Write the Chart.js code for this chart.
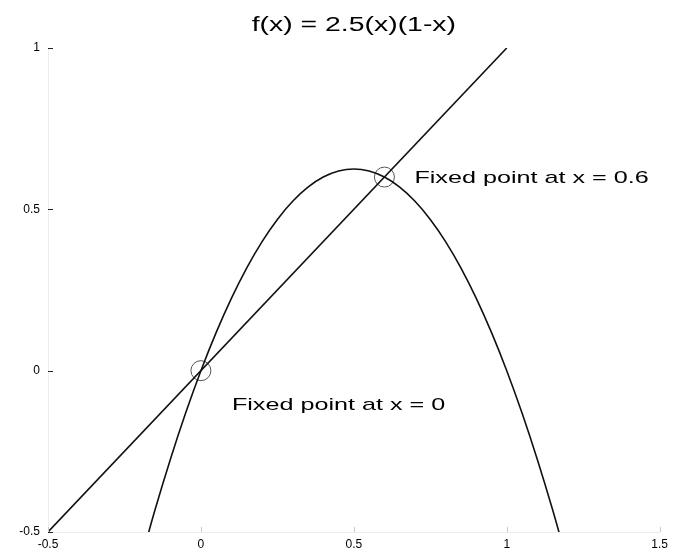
<!DOCTYPE html>
<html>
<head>
<meta charset="utf-8">
<title>Logistic map fixed points</title>
<script src="https://cdn.jsdelivr.net/npm/chart.js@4/dist/chart.umd.min.js"></script>
<style>
  html, body { margin: 0; padding: 0; background: #ffffff; }
  canvas { display: block; }
</style>
</head>
<body>
<canvas id="plot" width="673" height="557"></canvas>
<script>
// Title of the plot
const titleText = 'f(x) = 2.5(x)(1-x)';

// Sampled logistic curve f(x) = 2.5 x (1 - x)
const curveX = [-0.2, -0.15, -0.1, -0.05, 0, 0.05, 0.1, 0.15, 0.2, 0.25, 0.3, 0.35, 0.4, 0.45, 0.5,
                0.55, 0.6, 0.65, 0.7, 0.75, 0.8, 0.85, 0.9, 0.95, 1, 1.05, 1.1, 1.15, 1.2];
const curveY = [-0.6, -0.43125, -0.275, -0.13125, 0, 0.11875, 0.225, 0.31875, 0.4, 0.46875, 0.525, 0.56875, 0.6, 0.61875, 0.625,
                0.61875, 0.6, 0.56875, 0.525, 0.46875, 0.4, 0.31875, 0.225, 0.11875, 0, -0.13125, -0.275, -0.43125, -0.6];

// Identity line y = x
const diagX = [-0.5, 1];
const diagY = [-0.5, 1];

// Fixed points where f(x) = x
const fixedX = [0, 0.6];
const fixedY = [0, 0.6];
const fixedLabels = ['Fixed point at x = 0', 'Fixed point at x = 0.6'];

// Axis ticks
const xTicks = [-0.5, 0, 0.5, 1, 1.5];
const yTicks = [-0.5, 0, 0.5, 1];

const FONT = "'Liberation Sans', Arial, Helvetica, sans-serif";
// label offsets (px) from each fixed point
const labelOffsets = [[31, 35], [30, 1]];

function toPoints(xs, ys) {
  return xs.map((x, i) => ({ x: x, y: ys[i] }));
}

function stretchedText(ctx, text, x, y, align, font, sx) {
  ctx.save();
  ctx.font = font;
  ctx.textBaseline = 'middle';
  ctx.textAlign = 'left';
  const w = ctx.measureText(text).width * sx;
  const left = align === 'center' ? x - w / 2 : (align === 'right' ? x - w : x);
  ctx.translate(left, y);
  ctx.scale(sx, 1);
  ctx.fillStyle = '#000';
  ctx.fillText(text, 0, 0);
  ctx.restore();
}

// inward tick marks, title and fixed-point captions
const decorations = {
  id: 'decorations',
  afterDatasetsDraw(chart) {
    const { ctx, chartArea: a, scales: { x, y } } = chart;
    ctx.save();
    ctx.lineWidth = 1;
    ctx.strokeStyle = '#222';
    yTicks.forEach(v => {
      const py = Math.round(y.getPixelForValue(v)) + 0.5;
      ctx.beginPath();
      ctx.moveTo(a.left, py);
      ctx.lineTo(a.left + 5, py);
      ctx.stroke();
    });
    ctx.strokeStyle = '#c8c8c8';
    xTicks.forEach(v => {
      const px = Math.round(x.getPixelForValue(v)) + 0.5;
      ctx.beginPath();
      ctx.moveTo(px, a.bottom);
      ctx.lineTo(px, a.bottom - 5);
      ctx.stroke();
    });
    ctx.restore();

    stretchedText(ctx, titleText, (a.left + a.right) / 2, 25, 'center', '20px ' + FONT, 1.42);

    fixedLabels.forEach((t, i) => {
      const px = x.getPixelForValue(fixedX[i]) + labelOffsets[i][0];
      const py = y.getPixelForValue(fixedY[i]) + labelOffsets[i][1];
      stretchedText(ctx, t, px, py, 'left', '17px ' + FONT, 1.48);
    });
  }
};

new Chart(document.getElementById('plot'), {
  type: 'scatter',
  data: {
    datasets: [
      {
        label: 'f(x)',
        data: toPoints(curveX, curveY),
        showLine: true,
        borderColor: '#111',
        borderWidth: 1.6,
        pointRadius: 0,
        tension: 0.35
      },
      {
        label: 'y = x',
        data: toPoints(diagX, diagY),
        showLine: true,
        borderColor: '#111',
        borderWidth: 1.6,
        pointRadius: 0,
        tension: 0
      },
      {
        label: 'fixed points',
        data: toPoints(fixedX, fixedY),
        showLine: false,
        pointStyle: 'circle',
        pointRadius: 10,
        pointBorderWidth: 1,
        pointBorderColor: '#555',
        pointBackgroundColor: 'rgba(0,0,0,0)'
      }
    ]
  },
  options: {
    responsive: false,
    animation: false,
    devicePixelRatio: 1,
    layout: { padding: { top: 48, right: 11, left: 0, bottom: 0 } },
    plugins: {
      legend: { display: false },
      title: { display: false },
      tooltip: { enabled: false }
    },
    scales: {
      x: {
        type: 'linear',
        min: -0.5,
        max: 1.5,
        afterBuildTicks: s => { s.ticks = xTicks.map(v => ({ value: v })); },
        afterFit: s => { s.height = 25; },
        grid: { display: true, color: 'rgba(0,0,0,0)', drawTicks: false },
        border: { display: true, color: '#ececec', width: 1 },
        ticks: {
          padding: 5,
          color: '#000',
          font: { family: FONT, size: 12 },
          maxRotation: 0,
          callback: v => String(v)
        }
      },
      y: {
        type: 'linear',
        min: -0.5,
        max: 1,
        afterBuildTicks: s => { s.ticks = yTicks.map(v => ({ value: v })); },
        afterFit: s => { s.width = 48; },
        grid: { display: true, color: 'rgba(0,0,0,0)', drawTicks: false },
        border: { display: true, color: '#ececec', width: 1 },
        ticks: {
          padding: 8,
          color: '#000',
          font: { family: FONT, size: 12 },
          callback: v => String(v)
        }
      }
    }
  },
  plugins: [decorations]
});
</script>
</body>
</html>
